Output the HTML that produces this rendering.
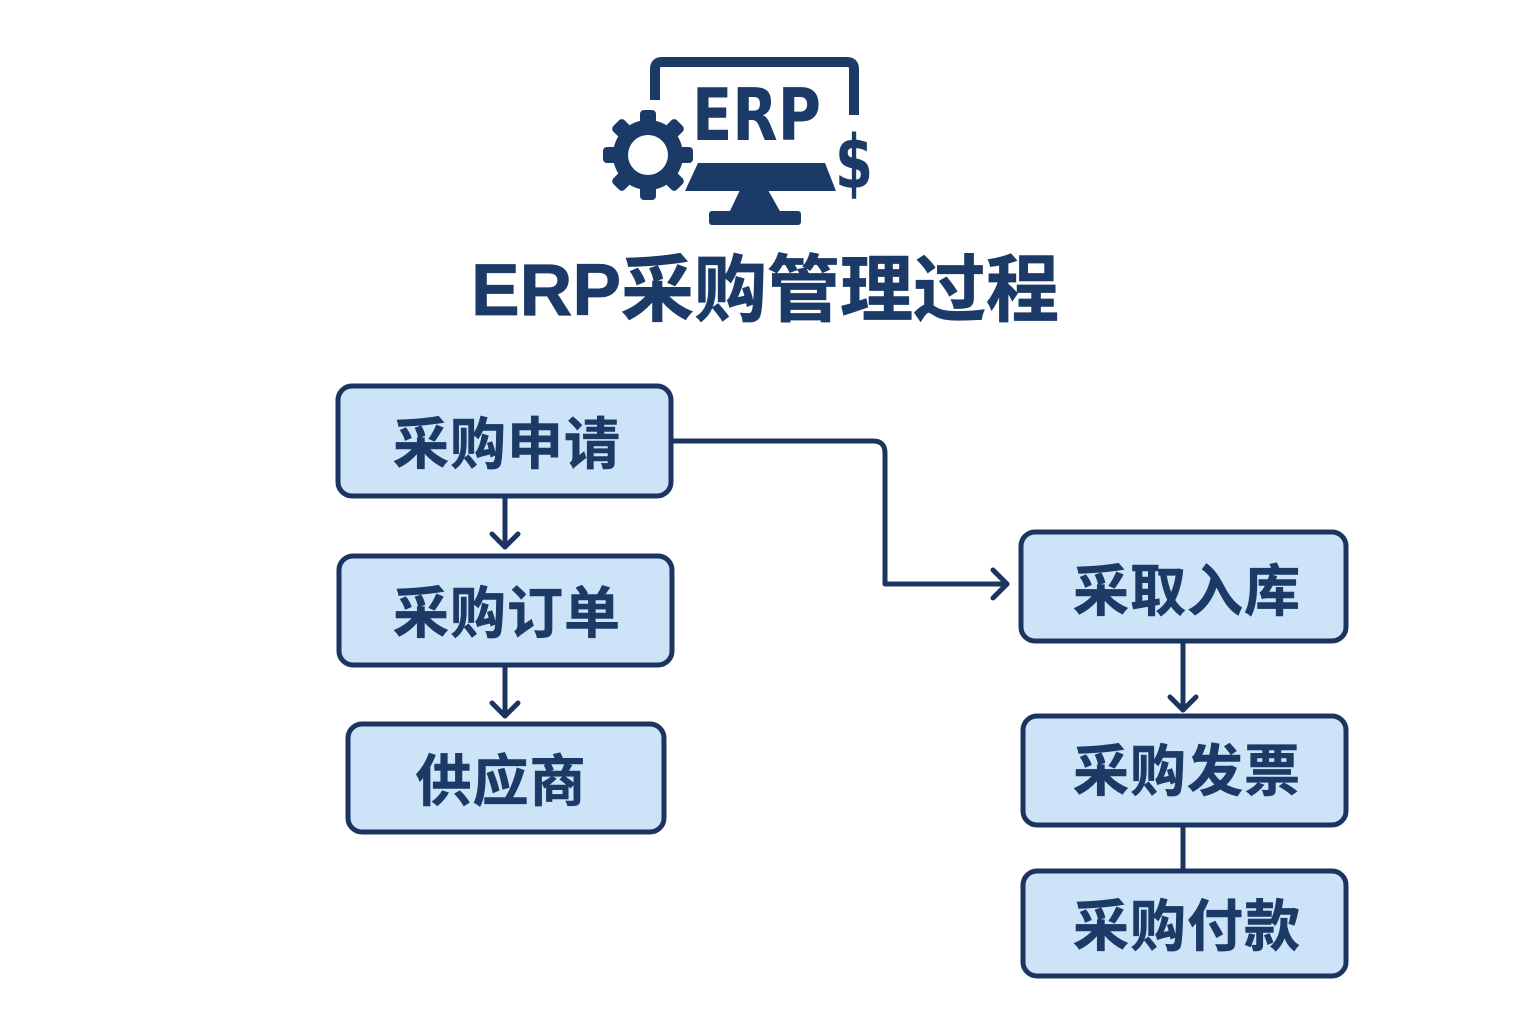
<!DOCTYPE html>
<html>
<head>
<meta charset="utf-8">
<style>
  html,body{margin:0;padding:0;background:#ffffff;}
  body{width:1536px;height:1024px;overflow:hidden;}
  svg{display:block;}
  .lbl{font-family:"Liberation Sans","Noto Sans CJK SC",sans-serif;font-weight:bold;font-size:56px;fill:#1c3a66;text-anchor:middle;letter-spacing:1px;stroke:#1c3a66;stroke-width:0.6px;}
</style>
</head>
<body>
<svg width="1536" height="1024" viewBox="0 0 1536 1024" xmlns="http://www.w3.org/2000/svg">
  <rect width="1536" height="1024" fill="#ffffff"/>

  <!-- ERP icon -->
  <g fill="#1b3a68">
    <path d="M655,100 V69 Q655,62 662,62 H847 Q854,62 854,69 V115" fill="none" stroke="#1b3a68" stroke-width="10"/>
    <text x="692" y="140" font-family="DejaVu Sans, Liberation Sans, sans-serif" font-weight="bold" font-size="72" textLength="129" lengthAdjust="spacingAndGlyphs">ERP</text>
    <polygon points="698,163 825,163 836,191 685,191"/>
    <polygon points="740,190 768,190 781,213 729,213"/>
    <rect x="709" y="211" width="92" height="14" rx="3"/>
    <text x="835" y="188" font-family="DejaVu Sans, Liberation Sans, sans-serif" font-weight="bold" font-size="74" textLength="38" lengthAdjust="spacingAndGlyphs">$</text>
    <g transform="translate(648,155)">
      <circle r="35"/>
      <g>
        <rect x="-8" y="-45" width="16" height="20" rx="4"/>
        <rect x="-8" y="-45" width="16" height="20" rx="4" transform="rotate(45)"/>
        <rect x="-8" y="-45" width="16" height="20" rx="4" transform="rotate(90)"/>
        <rect x="-8" y="-45" width="16" height="20" rx="4" transform="rotate(135)"/>
        <rect x="-8" y="-45" width="16" height="20" rx="4" transform="rotate(180)"/>
        <rect x="-8" y="-45" width="16" height="20" rx="4" transform="rotate(225)"/>
        <rect x="-8" y="-45" width="16" height="20" rx="4" transform="rotate(270)"/>
        <rect x="-8" y="-45" width="16" height="20" rx="4" transform="rotate(315)"/>
      </g>
      <circle r="20" fill="#ffffff"/>
    </g>
  </g>

  <!-- Title -->
  <text x="765" y="315" text-anchor="middle" font-family="Liberation Sans, 'Noto Sans CJK SC', sans-serif" font-weight="bold" font-size="73" fill="#1b3a68" stroke="#1b3a68" stroke-width="0.8">ERP采购管理过程</text>

  <!-- connectors -->
  <g fill="none" stroke="#1b3560" stroke-width="5" stroke-linecap="round" stroke-linejoin="round">
    <path d="M505,497 V547"/>
    <path d="M492,534 L505,547 L518,534"/>
    <path d="M505,665 V716"/>
    <path d="M492,703 L505,716 L518,703"/>
    <path d="M671,441 H873 Q885,441 885,453 V584 H1007"/>
    <path d="M993,570 L1007,584 L993,598"/>
    <path d="M1183,642 V710"/>
    <path d="M1170,697 L1183,710 L1196,697"/>
    <path d="M1183,825 V870"/>
  </g>

  <!-- boxes -->
  <g fill="#cde4f8" stroke="#1b3560" stroke-width="5">
    <rect x="338" y="386" width="333" height="110" rx="14"/>
    <rect x="339" y="556" width="333" height="109" rx="14"/>
    <rect x="348" y="724" width="316" height="108" rx="14"/>
    <rect x="1021" y="532" width="325" height="109" rx="14"/>
    <rect x="1023" y="716" width="323" height="109" rx="14"/>
    <rect x="1023" y="871" width="323" height="105" rx="14"/>
  </g>

  <!-- labels -->
  <text class="lbl" x="507" y="464">采购申请</text>
  <text class="lbl" x="507" y="633">采购订单</text>
  <text class="lbl" x="501" y="801">供应商</text>
  <text class="lbl" x="1187" y="611">采取入库</text>
  <text class="lbl" x="1187" y="791">采购发票</text>
  <text class="lbl" x="1187" y="946">采购付款</text>
</svg>
</body>
</html>
